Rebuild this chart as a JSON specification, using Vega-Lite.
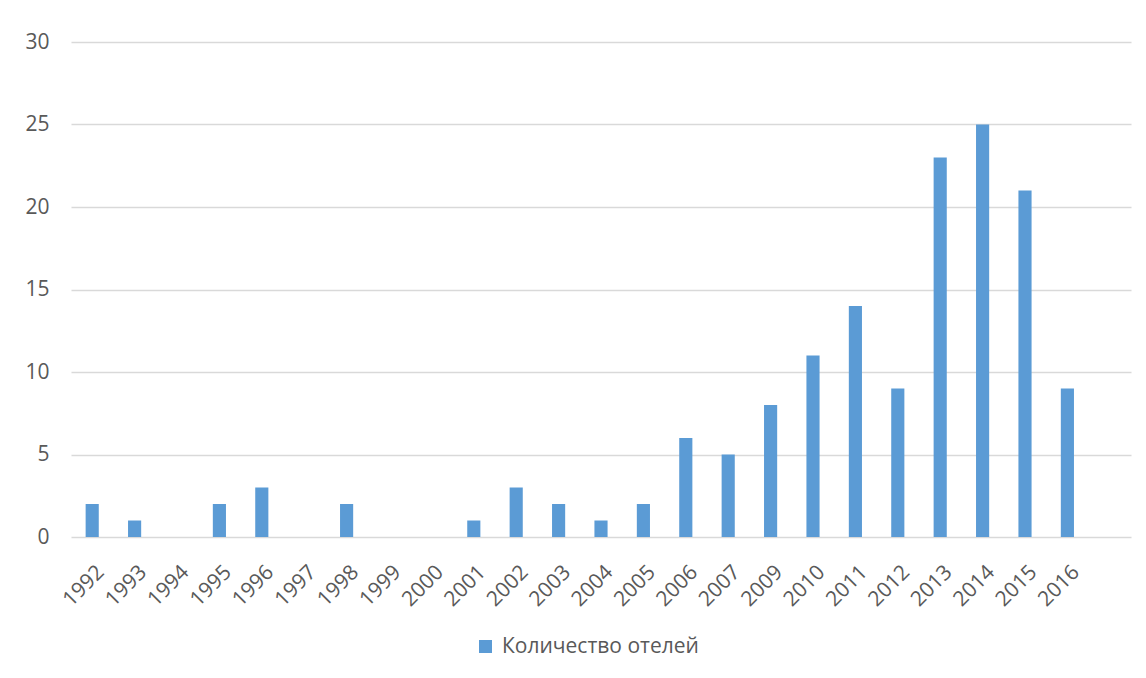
{
  "$schema": "https://vega.github.io/schema/vega-lite/v6.json",
  "width": 1060,
  "height": 495,
  "autosize": "none",
  "padding": {"left": 71, "top": 42, "right": 15, "bottom": 141},
  "background": "white",
  "data": {
    "values": [
      {"year": "1992", "hotels": 2},
      {"year": "1993", "hotels": 1},
      {"year": "1994", "hotels": 0},
      {"year": "1995", "hotels": 2},
      {"year": "1996", "hotels": 3},
      {"year": "1997", "hotels": 0},
      {"year": "1998", "hotels": 2},
      {"year": "1999", "hotels": 0},
      {"year": "2000", "hotels": 0},
      {"year": "2001", "hotels": 1},
      {"year": "2002", "hotels": 3},
      {"year": "2003", "hotels": 2},
      {"year": "2004", "hotels": 1},
      {"year": "2005", "hotels": 2},
      {"year": "2006", "hotels": 6},
      {"year": "2007", "hotels": 5},
      {"year": "2009", "hotels": 8},
      {"year": "2010", "hotels": 11},
      {"year": "2011", "hotels": 14},
      {"year": "2012", "hotels": 9},
      {"year": "2013", "hotels": 23},
      {"year": "2014", "hotels": 25},
      {"year": "2015", "hotels": 21},
      {"year": "2016", "hotels": 9}
    ]
  },
  "transform": [{"calculate": "'Количество отелей'", "as": "series"}],
  "mark": {"type": "bar", "color": "#5b9bd5"},
  "encoding": {
    "x": {
      "field": "year",
      "type": "nominal",
      "sort": null,
      "scale": {
        "domain": ["1992", "1993", "1994", "1995", "1996", "1997", "1998", "1999", "2000", "2001", "2002", "2003", "2004", "2005", "2006", "2007", "2009", "2010", "2011", "2012", "2013", "2014", "2015", "2016", " "],
        "paddingInner": 0.69,
        "paddingOuter": 0.345
      },
      "axis": {
        "title": null,
        "domain": false,
        "ticks": false,
        "labelAngle": -45,
        "labelAlign": "right",
        "labelBaseline": "top",
        "labelPadding": 24,
        "labelOffset": 1,
        "labelFont": "Open Sans",
        "labelFontSize": 21,
        "labelColor": "#595959"
      }
    },
    "y": {
      "field": "hotels",
      "type": "quantitative",
      "scale": {"domain": [0, 30], "nice": false},
      "axis": {
        "title": null,
        "values": [0, 5, 10, 15, 20, 25, 30],
        "domain": false,
        "ticks": false,
        "grid": true,
        "gridColor": "#d9d9d9",
        "gridWidth": 1.5,
        "labelPadding": 22,
        "labelFont": "Open Sans",
        "labelFontSize": 21,
        "labelColor": "#595959"
      }
    },
    "color": {
      "field": "series",
      "type": "nominal",
      "scale": {"range": ["#5b9bd5"]},
      "legend": {
        "title": null,
        "orient": "none",
        "legendX": 404,
        "legendY": 594,
        "symbolType": "square",
        "symbolSize": 170,
        "symbolOpacity": 1,
        "symbolStrokeWidth": 0,
        "labelFont": "Open Sans",
        "labelFontSize": 21,
        "labelColor": "#595959",
        "labelOffset": 6,
        "labelLimit": 400
      }
    }
  },
  "config": {"view": {"stroke": null}}
}
